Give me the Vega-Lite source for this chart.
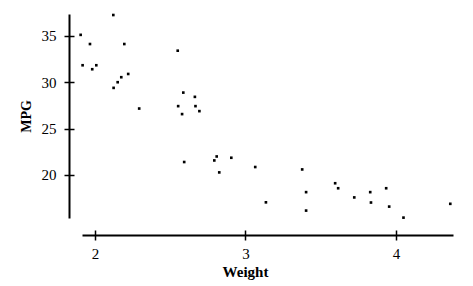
{
  "$schema": "https://vega.github.io/schema/vega-lite/v6.json",
  "width": 371,
  "height": 204,
  "autosize": {"type": "none"},
  "padding": {"left": 82, "top": 14, "right": 20, "bottom": 68},
  "background": "white",
  "data": {"values": [
    {"Weight": 2.122, "MPG": 37.26},
    {"Weight": 1.905, "MPG": 35.12},
    {"Weight": 1.967, "MPG": 34.13},
    {"Weight": 2.195, "MPG": 34.13},
    {"Weight": 2.550, "MPG": 33.41},
    {"Weight": 1.918, "MPG": 31.84},
    {"Weight": 1.982, "MPG": 31.41},
    {"Weight": 2.009, "MPG": 31.84},
    {"Weight": 2.221, "MPG": 30.90},
    {"Weight": 2.175, "MPG": 30.55},
    {"Weight": 2.151, "MPG": 30.01},
    {"Weight": 2.124, "MPG": 29.40},
    {"Weight": 2.587, "MPG": 28.89},
    {"Weight": 2.664, "MPG": 28.43},
    {"Weight": 2.553, "MPG": 27.43},
    {"Weight": 2.668, "MPG": 27.43},
    {"Weight": 2.694, "MPG": 26.89},
    {"Weight": 2.579, "MPG": 26.57},
    {"Weight": 2.294, "MPG": 27.17},
    {"Weight": 2.593, "MPG": 21.40},
    {"Weight": 2.809, "MPG": 22.00},
    {"Weight": 2.793, "MPG": 21.57},
    {"Weight": 2.906, "MPG": 21.86},
    {"Weight": 2.826, "MPG": 20.28},
    {"Weight": 3.065, "MPG": 20.86},
    {"Weight": 3.377, "MPG": 20.60},
    {"Weight": 3.136, "MPG": 17.05},
    {"Weight": 3.403, "MPG": 18.15},
    {"Weight": 3.403, "MPG": 16.16},
    {"Weight": 3.596, "MPG": 19.11},
    {"Weight": 3.616, "MPG": 18.57},
    {"Weight": 3.723, "MPG": 17.58},
    {"Weight": 3.829, "MPG": 18.15},
    {"Weight": 3.834, "MPG": 17.03},
    {"Weight": 3.935, "MPG": 18.57},
    {"Weight": 3.955, "MPG": 16.59},
    {"Weight": 4.050, "MPG": 15.40},
    {"Weight": 4.361, "MPG": 16.89}
  ]},
  "layer": [
    {
      "mark": {"type": "square", "size": 7, "color": "black", "opacity": 1},
      "encoding": {
        "x": {"field": "Weight", "type": "quantitative",
          "scale": {"domain": [1.914, 4.379], "nice": false, "zero": false},
          "axis": {"orient": "bottom", "offset": 17, "values": [2, 3, 4], "tickSize": 5, "labelPadding": 6, "title": "Weight", "titleX": 163, "titlePadding": 3, "titleFontSize": 15, "grid": false}},
        "y": {"field": "MPG", "type": "quantitative",
          "scale": {"domain": [15.36, 37.37], "nice": false, "zero": false},
          "axis": {"orient": "left", "offset": 13, "values": [20, 25, 30, 35], "tickSize": 5, "labelPadding": 8, "title": "MPG", "titlePadding": 8, "titleFontSize": 14, "grid": false}}
      }
    },
    {
      "mark": {"type": "square", "size": 7, "opacity": 0},
      "encoding": {
        "x": {"field": "Weight", "type": "quantitative",
          "axis": {"orient": "bottom", "offset": 17, "values": [2, 3, 4], "tickSize": -5, "labels": false, "domain": false, "title": null, "grid": false}},
        "y": {"field": "MPG", "type": "quantitative",
          "axis": {"orient": "left", "offset": 13, "values": [20, 25, 30, 35], "tickSize": -5, "labels": false, "domain": false, "title": null, "grid": false}}
      }
    }
  ],
  "resolve": {"axis": {"x": "independent", "y": "independent"}},
  "config": {
    "view": {"stroke": null},
    "font": "Liberation Serif",
    "axis": {
      "domainColor": "black", "domainWidth": 2, "tickColor": "black", "tickWidth": 1.5,
      "labelColor": "black", "labelFont": "Liberation Serif", "labelFontSize": 15, "labelFontWeight": "normal",
      "titleColor": "black", "titleFont": "Liberation Serif", "titleFontWeight": "bold"
    }
  }
}
